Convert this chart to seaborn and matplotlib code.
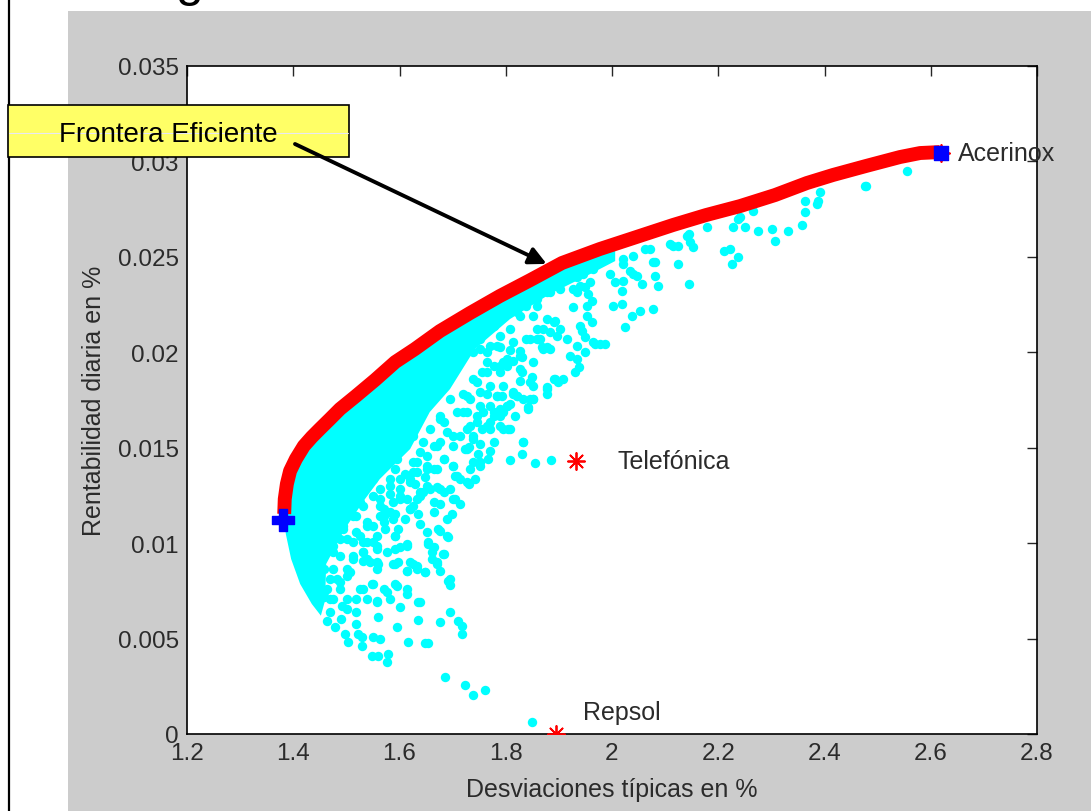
import matplotlib
matplotlib.use("Agg")
import matplotlib.pyplot as plt
from matplotlib.patches import Rectangle, ConnectionPatch
from matplotlib.lines import Line2D
import seaborn as sns
import pandas as pd

# --- DATOS ---
# frontera eficiente (desviacion tipica %, rentabilidad diaria %)
front_sd = [1.383, 1.384, 1.388, 1.394, 1.405, 1.420, 1.435, 1.450, 1.469, 1.488, 1.518,
            1.554, 1.592, 1.629, 1.676, 1.733, 1.789, 1.846, 1.906, 1.977, 2.034, 2.115,
            2.177, 2.241, 2.307, 2.367, 2.416, 2.478, 2.542, 2.580, 2.617]
front_ret = [0.01153, 0.01231, 0.01310, 0.01378, 0.01441, 0.01509, 0.01556, 0.01598, 0.01650,
             0.01703, 0.01771, 0.01855, 0.01949, 0.02017, 0.02111, 0.02206, 0.02295, 0.02378,
             0.02468, 0.02541, 0.02593, 0.02667, 0.02719, 0.02766, 0.02824, 0.02887, 0.02929,
             0.02976, 0.03023, 0.03044, 0.03049]

# zona casi continua de carteras pegada a la frontera (contorno)
core_sd = [2.006, 1.977, 1.906, 1.846, 1.789, 1.733, 1.676, 1.629, 1.592, 1.554, 1.518, 1.488,
           1.469, 1.450, 1.435, 1.420, 1.405, 1.394, 1.388, 1.384, 1.383, 1.386, 1.396, 1.413,
           1.435, 1.452, 1.460, 1.462, 1.497, 1.535, 1.563, 1.620, 1.657, 1.695, 1.742, 1.808,
           1.883, 1.959, 2.006]
core_ret = [0.02567, 0.02541, 0.02468, 0.02378, 0.02295, 0.02206, 0.02111, 0.02017, 0.01949,
            0.01855, 0.01771, 0.01703, 0.01650, 0.01598, 0.01556, 0.01509, 0.01441, 0.01378,
            0.01310, 0.01231, 0.01153, 0.01048, 0.00917, 0.00786, 0.00681, 0.00620, 0.00700,
            0.00891, 0.01074, 0.01231, 0.01336, 0.01493, 0.01687, 0.01807, 0.02017, 0.02174,
            0.02305, 0.02410, 0.02478]

# carteras simuladas, por zonas
cloud_band = [(1.673, 0.01074), (1.689, 0.01039), (1.592, 0.01039), (1.601, 0.00978), (1.614, 0.00987),
              (1.654, 0.00995), (1.664, 0.00978), (1.683, 0.00943), (1.661, 0.00917), (1.670, 0.00891),
              (1.588, 0.00891), (1.598, 0.00900), (1.620, 0.00900), (1.632, 0.00882), (1.614, 0.00856),
              (1.648, 0.00847), (1.692, 0.00803), (1.544, 0.00900), (1.560, 0.00891), (1.548, 0.00786),
              (1.532, 0.00760), (1.570, 0.00760), (1.595, 0.00777), (1.614, 0.00733), (1.635, 0.00690),
              (1.582, 0.00707), (1.557, 0.00690), (1.519, 0.00707), (1.501, 0.00707), (1.513, 0.00934),
              (1.532, 0.00952), (1.538, 0.01004), (1.557, 0.00987), (1.557, 0.01039), (1.570, 0.01144),
              (1.582, 0.01161), (1.563, 0.01196), (1.588, 0.01214), (1.614, 0.01231), (1.632, 0.01231),
              (1.645, 0.01266), (1.657, 0.01284), (1.670, 0.01292), (1.701, 0.01231), (1.705, 0.01353),
              (1.727, 0.01319), (1.701, 0.01406), (1.683, 0.01441), (1.664, 0.01388), (1.651, 0.01458),
              (1.626, 0.01423), (1.620, 0.01336), (1.632, 0.01371), (1.601, 0.01336), (1.582, 0.01301),
              (1.563, 0.01284), (1.551, 0.01249), (1.601, 0.01284), (1.727, 0.01493), (1.714, 0.01563),
              (1.739, 0.01423), (1.676, 0.01528), (1.645, 0.01528), (1.601, 0.01493), (1.576, 0.01458),
              (1.557, 0.01406), (1.526, 0.01336), (1.507, 0.01301), (1.494, 0.01249), (1.482, 0.01179),
              (1.501, 0.01196), (1.526, 0.01214), (1.513, 0.01144), (1.494, 0.01091), (1.538, 0.01091),
              (1.526, 0.01039), (1.501, 0.01022), (1.475, 0.00987), (1.488, 0.00934), (1.475, 0.00864),
              (1.501, 0.00864), (1.488, 0.00795), (1.463, 0.00760), (1.475, 0.00707),
              (1.783, 0.01772), (1.821, 0.01772), (1.852, 0.01755), (1.877, 0.01807), (1.893, 0.01860),
              (1.849, 0.01869), (1.827, 0.01912), (1.802, 0.01965), (1.827, 0.02008), (1.858, 0.02069),
              (1.877, 0.02026), (1.890, 0.02157), (1.839, 0.02069), (1.821, 0.02209), (1.858, 0.02244),
              (1.877, 0.02314), (1.833, 0.01528), (1.770, 0.01598), (1.789, 0.01668), (1.745, 0.01633),
              (1.727, 0.01598), (1.720, 0.01685), (1.752, 0.01720), (1.770, 0.01825), (1.789, 0.01895),
              (1.764, 0.01947), (1.783, 0.02034), (1.752, 0.02017), (1.720, 0.02000), (1.733, 0.02087),
              (1.708, 0.01930), (1.689, 0.01843), (1.695, 0.01755), (1.676, 0.01668), (1.657, 0.01598),
              (1.626, 0.01563), (1.601, 0.01598), (1.639, 0.01668), (1.620, 0.01755), (1.651, 0.01807)]

cloud_lower = [(1.689, 0.01126), (1.676, 0.01065), (1.691, 0.01032), (1.592, 0.01037), (1.614, 0.00995),
               (1.592, 0.00969), (1.654, 0.01006), (1.661, 0.00954), (1.682, 0.00943), (1.670, 0.00901),
               (1.676, 0.00856), (1.648, 0.00849), (1.625, 0.00891), (1.632, 0.00864), (1.614, 0.00856),
               (1.592, 0.00891), (1.557, 0.00901), (1.557, 0.00864), (1.531, 0.00908), (1.512, 0.00917),
               (1.695, 0.00812), (1.695, 0.00781), (1.614, 0.00760), (1.592, 0.00786), (1.576, 0.00744),
               (1.550, 0.00786), (1.526, 0.00760), (1.557, 0.00698), (1.538, 0.00707), (1.639, 0.00692),
               (1.601, 0.00665), (1.695, 0.00639), (1.710, 0.00594), (1.717, 0.00567), (1.717, 0.00524),
               (1.676, 0.00587), (1.635, 0.00599), (1.595, 0.00561), (1.560, 0.00613), (1.519, 0.00576),
               (1.522, 0.00524), (1.497, 0.00524), (1.503, 0.00482), (1.529, 0.00508), (1.550, 0.00508),
               (1.563, 0.00498), (1.529, 0.00463), (1.616, 0.00484), (1.648, 0.00477), (1.654, 0.00477),
               (1.548, 0.00410), (1.560, 0.00410), (1.578, 0.00419), (1.576, 0.00377), (1.686, 0.00299),
               (1.723, 0.00257), (1.761, 0.00232), (1.738, 0.00204), (1.849, 0.00061),
               (1.463, 0.00590), (1.478, 0.00560), (1.490, 0.00600), (1.470, 0.00640)]

cloud_left = [(1.469, 0.01109), (1.494, 0.01074), (1.519, 0.01144), (1.538, 0.01109), (1.563, 0.01144),
              (1.570, 0.01109), (1.592, 0.01153), (1.620, 0.01179), (1.513, 0.01004), (1.532, 0.01004),
              (1.551, 0.01004), (1.557, 0.00969), (1.532, 0.00952), (1.501, 0.00829), (1.488, 0.00760),
              (1.469, 0.00812), (1.457, 0.00864), (1.475, 0.00952), (1.454, 0.01004), (1.501, 0.00655),
              (1.519, 0.00638), (1.491, 0.00672), (1.469, 0.00707), (1.457, 0.00716),
              (1.563, 0.01650), (1.595, 0.01581), (1.614, 0.01650), (1.626, 0.01720), (1.651, 0.01755),
              (1.676, 0.01650), (1.689, 0.01581), (1.664, 0.01510), (1.639, 0.01476), (1.595, 0.01441),
              (1.563, 0.01406), (1.551, 0.01336), (1.582, 0.01336), (1.626, 0.01371), (1.651, 0.01406),
              (1.683, 0.01441), (1.701, 0.01510), (1.739, 0.01545), (1.764, 0.01615), (1.777, 0.01685),
              (1.802, 0.01720), (1.814, 0.01790), (1.833, 0.01755), (1.852, 0.01825), (1.733, 0.01755),
              (1.708, 0.01685), (1.752, 0.01406), (1.714, 0.01336), (1.676, 0.01284), (1.639, 0.01266),
              (1.601, 0.01231), (1.563, 0.01231), (1.532, 0.01196), (1.626, 0.01196), (1.664, 0.01161),
              (1.588, 0.01126), (1.551, 0.01091), (1.519, 0.01057), (1.488, 0.01022), (1.651, 0.01057),
              (1.576, 0.00952), (1.538, 0.00917), (1.507, 0.00847), (1.482, 0.00812), (1.457, 0.00742),
              (1.592, 0.01388), (1.610, 0.01362), (1.629, 0.01310), (1.648, 0.01346), (1.671, 0.01388),
              (1.695, 0.01284), (1.714, 0.01205), (1.733, 0.01388), (1.748, 0.01467), (1.582, 0.01257),
              (1.610, 0.01126), (1.635, 0.01153), (1.676, 0.01205), (1.699, 0.01153), (1.597, 0.01074),
              (1.639, 0.01100), (1.573, 0.01074), (1.723, 0.01493), (1.742, 0.01336), (1.767, 0.01441)]

cloud_mid = [(1.877, 0.01816), (1.890, 0.01860), (1.852, 0.01755), (1.842, 0.01712), (1.821, 0.01772),
             (1.817, 0.01668), (1.795, 0.01598), (1.814, 0.01956), (1.827, 0.01851), (1.846, 0.01843),
             (1.852, 0.01947), (1.864, 0.02069), (1.871, 0.02017), (1.846, 0.02069), (1.814, 0.02052),
             (1.789, 0.02026), (1.802, 0.01930), (1.783, 0.01772), (1.789, 0.01703), (1.808, 0.01729),
             (1.758, 0.01685), (1.770, 0.01633), (1.755, 0.01598), (1.739, 0.01563), (1.752, 0.01519),
             (1.730, 0.01502), (1.752, 0.01423), (1.730, 0.01310), (1.708, 0.01353), (1.701, 0.01406),
             (1.705, 0.01231), (1.683, 0.01266), (1.664, 0.01214), (1.651, 0.01301), (1.714, 0.02000),
             (1.739, 0.02069), (1.764, 0.02000), (1.777, 0.01930), (1.755, 0.01895), (1.795, 0.01947),
             (1.745, 0.01843), (1.764, 0.01781), (1.720, 0.01781), (1.727, 0.01685), (1.701, 0.01563),
             (1.683, 0.01633), (1.670, 0.01510), (1.651, 0.01388), (1.632, 0.01423), (1.620, 0.01319),
             (1.639, 0.01249), (1.601, 0.01249), (1.570, 0.01179), (1.620, 0.01179),
             (1.808, 0.01437), (1.830, 0.01467), (1.833, 0.01528), (1.855, 0.01418), (1.885, 0.01437),
             (1.770, 0.01484), (1.777, 0.01528), (1.808, 0.01598)]

cloud_upper = [(2.109, 0.02567), (2.125, 0.02558), (2.147, 0.02576), (2.153, 0.02550), (2.125, 0.02462),
               (2.144, 0.02358), (2.087, 0.02349), (2.081, 0.02401), (2.081, 0.02471), (2.062, 0.02541),
               (2.040, 0.02506), (2.021, 0.02462), (1.996, 0.02410), (2.006, 0.02366), (2.021, 0.02375),
               (2.018, 0.02322), (2.040, 0.02410), (2.056, 0.02358), (2.078, 0.02227), (2.053, 0.02218),
               (2.037, 0.02191), (2.024, 0.02131), (2.002, 0.02244), (2.018, 0.02253), (1.965, 0.02436),
               (1.949, 0.02340), (1.934, 0.02314), (1.940, 0.02349), (1.955, 0.02305), (1.962, 0.02270),
               (1.927, 0.02235), (1.952, 0.02244), (1.952, 0.02191), (1.962, 0.02157), (1.940, 0.02139),
               (1.943, 0.02113), (1.968, 0.02043), (1.987, 0.02043), (1.949, 0.02078), (1.949, 0.02000),
               (1.934, 0.02034), (1.921, 0.01982), (1.934, 0.01965), (1.937, 0.01921), (1.930, 0.01895),
               (1.908, 0.01860), (1.899, 0.01843), (1.915, 0.02069), (1.896, 0.02087), (1.902, 0.02122),
               (1.883, 0.02104), (1.893, 0.02165), (1.871, 0.02122), (1.861, 0.02069), (1.868, 0.02026),
               (1.883, 0.02017), (1.830, 0.01974), (1.830, 0.01895), (1.877, 0.01781), (1.846, 0.01755),
               (1.842, 0.01703), (1.814, 0.01781), (1.792, 0.01772), (1.802, 0.01720), (1.795, 0.01685),
               (1.805, 0.01598), (1.777, 0.01668),
               (1.727, 0.02087), (1.752, 0.02069), (1.739, 0.02000), (1.770, 0.02034), (1.789, 0.02087),
               (1.808, 0.02122), (1.777, 0.02139), (1.827, 0.02191), (1.839, 0.02244), (1.858, 0.02279),
               (1.883, 0.02314), (1.902, 0.02331), (1.927, 0.02331), (1.808, 0.02010), (1.789, 0.01930),
               (1.764, 0.01895), (1.739, 0.01860), (1.727, 0.01772), (1.752, 0.01790), (1.770, 0.01720),
               (1.745, 0.01668), (1.733, 0.01615), (1.789, 0.01615), (1.795, 0.01825), (1.827, 0.01982),
               (1.858, 0.02122), (1.877, 0.02174), (1.852, 0.02191)]

cloud_right = [(2.476, 0.02873), (2.392, 0.02838), (2.385, 0.02777), (2.363, 0.02794), (2.363, 0.02733),
               (2.357, 0.02667), (2.332, 0.02637), (2.307, 0.02584), (2.301, 0.02646), (2.275, 0.02637),
               (2.250, 0.02655), (2.228, 0.02655), (2.238, 0.02698), (2.266, 0.02742), (2.238, 0.02497),
               (2.225, 0.02462), (2.222, 0.02541), (2.210, 0.02532), (2.178, 0.02655), (2.144, 0.02620),
               (1.883, 0.02366), (1.934, 0.02393), (1.946, 0.02410), (1.959, 0.02366), (2.021, 0.02489),
               (2.034, 0.02427), (2.047, 0.02401), (2.072, 0.02541), (2.078, 0.02471), (2.115, 0.02558),
               (2.141, 0.02611), (2.241, 0.02707), (2.555, 0.02951), (2.479, 0.02873), (2.388, 0.02794),
               (1.977, 0.02043), (1.965, 0.02052)]

# activos individuales
assets = ["Acerinox", "Telefónica", "Repsol"]
asset_sd = [2.619, 1.932, 1.894]
asset_ret = [0.03043, 0.01432, 0.0]

# cartera de minima varianza
minvar_sd = 1.381
minvar_ret = 0.01121

xticks = [1.2, 1.4, 1.6, 1.8, 2.0, 2.2, 2.4, 2.6, 2.8]
yticks = [0, 0.005, 0.01, 0.015, 0.02, 0.025, 0.03, 0.035]

# --- FIGURA ---
sns.set_theme(style="white")
plt.rcParams["font.family"] = ["Liberation Sans", "DejaVu Sans"]

W, H = 1091, 812
fig = plt.figure(figsize=(W / 100, H / 100), dpi=100)
fig.patch.set_facecolor("white")

# fondo gris de la figura de matlab
fig.add_artist(Rectangle((68 / W, 0), 1 - 68 / W, 800 / H, transform=fig.transFigure,
                         facecolor="#CCCCCC", edgecolor="none", zorder=-5))
# borde de la diapositiva
fig.add_artist(Line2D([9 / W, 9 / W], [0, 1], transform=fig.transFigure, color="black", lw=1.6))
# resto del titulo cortado por arriba
fig.text(176 / W, 1 + 4 / H, "g", fontsize=36, va="baseline", color="black")

ax = fig.add_axes([187 / W, 1 - 735 / H, 850 / W, 668 / H])
ax.set_facecolor("white")

cloud = pd.DataFrame(cloud_band + cloud_lower + cloud_left + cloud_mid + cloud_upper + cloud_right,
                     columns=["sd", "ret"])
frontier = pd.DataFrame({"sd": front_sd, "ret": front_ret})

ax.fill(core_sd, core_ret, color="#00FFFF", lw=0, zorder=1.5)
sns.scatterplot(data=cloud, x="sd", y="ret", color="#00FFFF", s=46, linewidth=0,
                ax=ax, zorder=2, legend=False)
sns.lineplot(data=frontier, x="sd", y="ret", sort=False, estimator=None, color="#FF0000",
             lw=10, ax=ax, zorder=3, solid_capstyle="butt", solid_joinstyle="round")

ax.scatter(asset_sd, asset_ret, marker=(8, 2, 0), s=150, color="#FF0000", linewidths=1.3, zorder=4)
ax.scatter([asset_sd[0]], [asset_ret[0]], marker="s", s=100, color="#0000FF", zorder=5)
ax.scatter([minvar_sd], [minvar_ret], marker="P", s=260, color="#0000FF", zorder=5)

offsets = [(12, 0), (30, 0), (20, 16)]
for name, x, y, off in zip(assets, asset_sd, asset_ret, offsets):
    ax.annotate(name, (x, y), xytext=off, textcoords="offset points", va="center",
                ha="left", fontsize=18, color="#2b2b2b")

ax.set_xlim(1.2, 2.8)
ax.set_ylim(0, 0.035)
ax.set_xticks(xticks)
ax.set_yticks(yticks)
ax.set_xticklabels([f"{v:g}" for v in xticks])
ax.set_yticklabels([f"{v:g}" for v in yticks])
ax.tick_params(direction="in", length=7, width=1, top=True, right=True,
               labelsize=17.5, labelcolor="#2b2b2b", pad=6)
for s in ax.spines.values():
    s.set_color("black")
    s.set_linewidth(1.2)
ax.set_xlabel("Desviaciones típicas en %", fontsize=18, color="#2b2b2b", labelpad=9)
ax.set_ylabel("Rentabilidad diaria en %", fontsize=18, color="#2b2b2b", labelpad=8)

# --- ETIQUETA "Frontera Eficiente" ---
fig.add_artist(Rectangle((8 / W, 1 - 158 / H), 341 / W, 52 / H, transform=fig.transFigure,
                         facecolor="#FFFF66", edgecolor="black", lw=1.2, zorder=5))
fig.add_artist(Line2D([9 / W, 348 / W], [1 - 134 / H] * 2, transform=fig.transFigure,
                      color="#E8E8F4", lw=0.8, zorder=6))
fig.text(59 / W, 1 - 135 / H, "Frontera Eficiente", fontsize=20, va="center", color="black", zorder=7)
arrow = ConnectionPatch(xyA=(295 / W, 1 - 145 / H), coordsA="figure fraction",
                        xyB=(1.877, 0.02463), coordsB="data", axesB=ax,
                        arrowstyle="-|>", mutation_scale=26, lw=2.8, color="black", zorder=8)
fig.add_artist(arrow)

fig.savefig("out.png", dpi=100)
